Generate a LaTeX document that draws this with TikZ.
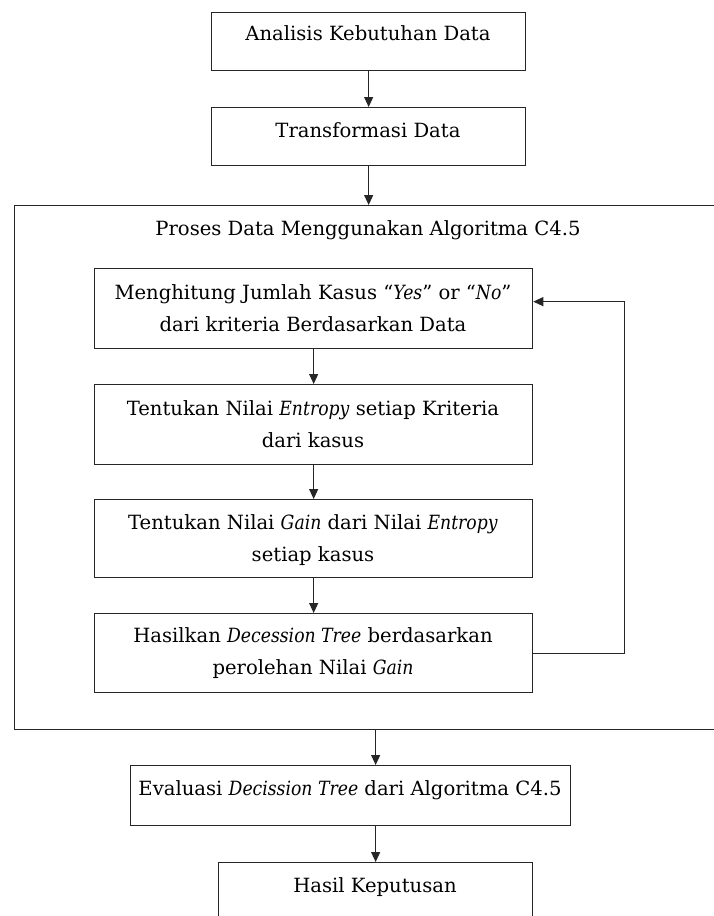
\documentclass[tikz,border=0pt]{standalone}
\usepackage{fontspec}
\setmainfont{DejaVu Serif}[ItalicFeatures={FakeStretch=0.88}]
\usetikzlibrary{arrows.meta,calc}
\begin{document}
\begin{tikzpicture}[x=1pt,y=-1pt,
  box/.style={draw=black!85,line width=1.3pt,rectangle,inner sep=0pt,anchor=north west},
  lbl/.style={font=\fontsize{19.6}{31.5}\selectfont,align=center,inner sep=0pt,text=black},
  arr/.style={draw=black!85,line width=1.1pt,-{Triangle[length=10pt,width=9pt]}}]
\useasboundingbox[fill=white] (0,0) rectangle (713,916);
% boxes
\node[box,minimum width=314pt,minimum height=58pt] (a) at (211,12) {};
\node[box,minimum width=314pt,minimum height=58pt] (b) at (211,107) {};
\node[box,minimum width=706pt,minimum height=524pt] (P) at (14,205) {};
\node[box,minimum width=438pt,minimum height=80pt] (m) at (94,268) {};
\node[box,minimum width=438pt,minimum height=80pt] (e) at (94,384) {};
\node[box,minimum width=438pt,minimum height=78pt] (g) at (94,499) {};
\node[box,minimum width=438pt,minimum height=79pt] (h) at (94,613) {};
\node[box,minimum width=440pt,minimum height=60pt] (v) at (130,765) {};
\node[box,minimum width=314pt,minimum height=80pt] (k) at (218,862) {};
% texts
\node[lbl] (ta) at (368,34) {\strut Analisis Kebutuhan Data};
\node[lbl] (tb) at (368,131) {\strut Transformasi Data};
\node[lbl] (tp) at (368,229) {\strut Proses Data Menggunakan Algoritma C4.5};
\node[lbl] (tm) at (313,309) {\strut Menghitung Jumlah Kasus “\textit{Yes}” or “\textit{No}”\\\strut dari kriteria Berdasarkan Data};
\node[lbl] (te) at (313,425) {\strut Tentukan Nilai \textit{Entropy} setiap Kriteria\\\strut dari kasus};
\node[lbl] (tg) at (313,539) {\strut Tentukan Nilai \textit{Gain} dari Nilai \textit{Entropy}\\\strut setiap kasus};
\node[lbl] (th) at (313,652) {\strut Hasilkan \textit{Decession Tree} berdasarkan\\\strut perolehan Nilai \textit{Gain}};
\node[lbl] (tv) at (350,789) {\strut Evaluasi \textit{Decission Tree} dari Algoritma C4.5};
\node[lbl] (tk) at (375,886) {\strut Hasil Keputusan};
% connectors
\draw[arr] (a.south) -- (b.north);
\draw[arr] (b.south) -- (b.south |- P.north);
\draw[arr] (m.south) -- (e.north);
\draw[arr] (e.south) -- (g.north);
\draw[arr] (g.south) -- (h.north);
\draw[arr] (h.east) -- ++(91,0) |- ([yshift=7pt]m.east);
\draw[arr] (P.south -| k.north) -- (v.north -| k.north);
\draw[arr] (v.south -| k.north) -- (k.north);
\end{tikzpicture}
\end{document}
